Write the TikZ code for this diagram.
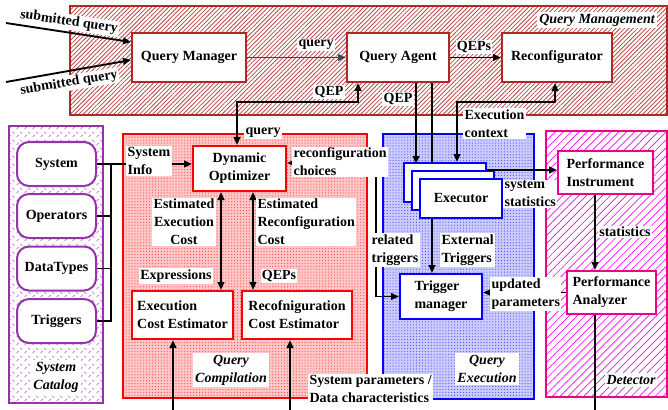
\documentclass[tikz,border=0pt]{standalone}
\usepackage{fontspec}
\setmainfont{Liberation Serif}
\usetikzlibrary{arrows.meta,patterns,patterns.meta,calc}
\definecolor{qmred}{RGB}{175,40,40}
\definecolor{catpurple}{RGB}{150,50,170}
\definecolor{qarrow}{RGB}{47,79,79}
\newcommand\mf{\fontsize{10.5}{13.5}\selectfont\bfseries}
\pgfdeclarepattern{name=zigzag, type=uncolored, bottom left={\pgfpoint{0pt}{0pt}}, top right={\pgfpoint{6pt}{6pt}}, tile size={\pgfpoint{6pt}{6pt}},
  code={\pgfsetlinewidth{0.5pt}
   \pgfpathmoveto{\pgfqpoint{0.5pt}{0.8pt}}\pgfpathlineto{\pgfqpoint{2.3pt}{2.6pt}}
   \pgfpathmoveto{\pgfqpoint{3.4pt}{5.2pt}}\pgfpathlineto{\pgfqpoint{5.4pt}{3.4pt}}
   \pgfusepath{stroke}}}
\tikzset{
  every node/.style={font=\mf},
  lbl/.style={fill=white, inner sep=1pt},
  lbll/.style={fill=white, inner sep=1pt, align=left},
  ital/.style={fill=white, inner sep=1.5pt, align=center, font=\mf\itshape},
  qmbox/.style={draw=qmred, fill=white, line width=1.5pt, minimum height=36.75pt},
  redbox/.style={draw=red, fill=white, line width=1.5pt, align=left},
  bluebox/.style={draw=blue, fill=white, line width=1.5pt, align=left},
  magbox/.style={draw=magenta, fill=white, line width=1.5pt, align=left},
  catbox/.style={draw=catpurple, fill=white, line width=1.5pt, rounded corners=9pt, minimum width=59.25pt, minimum height=33pt},
  ln/.style={line width=1.4pt},
  arr/.style={line width=1.4pt, -{Triangle[length=6pt,width=5pt]}},
  darr/.style={line width=1.4pt, {Triangle[length=6pt,width=5pt]}-{Triangle[length=6pt,width=5pt]}},
}
\begin{document}
\begin{tikzpicture}[x=0.75pt,y=-0.75pt]
\useasboundingbox (0,0) rectangle (668,410);
% regions
\fill[pattern={Lines[angle=45,distance=2.3pt,line width=0.6pt]}, pattern color=qmred!85] (70,6) rectangle (667,115);
\draw[qmred, line width=1.5pt] (70,6) rectangle (667,115);
\fill[pattern=zigzag, pattern color=catpurple!65] (9,126) rectangle (103,403);
\draw[catpurple, line width=1.5pt] (9,126) rectangle (103,403);
\fill[red!22] (123,134) rectangle (367,398);
\fill[pattern={Dots[distance=2.2pt,radius=0.45pt]}, pattern color=red!70] (123,134) rectangle (367,398);
\draw[red, line width=1.5pt] (123,134) rectangle (367,398);
\fill[blue!20] (383,134) rectangle (534,399);
\fill[pattern={Dots[distance=2.2pt,radius=0.45pt]}, pattern color=blue!70] (383,134) rectangle (534,399);
\draw[blue, line width=1.5pt] (383,134) rectangle (534,399);
\fill[pattern={Lines[angle=45,distance=4.2pt,line width=0.5pt]}, pattern color=magenta] (546,131) rectangle (667,397);
\draw[magenta, line width=1.5pt] (546,131) rectangle (667,397);

% boxes
\node[qmbox, minimum width=85.5pt] (qm) at (189,57.5) {Query Manager};
\node[qmbox, minimum width=76.5pt] (qa) at (398,57.5) {Query Agent};
\node[qmbox, minimum width=82.5pt] (rc) at (557,57.5) {Reconfigurator};
\node[catbox] (sys) at (56.5,164) {System};
\node[catbox] (ops) at (56.5,216) {Operators};
\node[catbox] (dt) at (56.5,268.5) {DataTypes};
\node[catbox] (trig) at (56.5,321) {Triggers};
\node[redbox, align=center, minimum width=69.75pt, minimum height=33.75pt] (do) at (239.5,168.5) {Dynamic\\Optimizer};
\node[redbox, minimum width=75.75pt, minimum height=36pt] (ece) at (182.5,315) {Execution\\Cost Estimator};
\node[redbox, minimum width=82.5pt, minimum height=36pt] (rce) at (297,315) {Recofniguration\\Cost Estimator};
\node[bluebox, minimum width=61.5pt, minimum height=29.25pt] (e1) at (445,182.5) {};
\node[bluebox, minimum width=61.5pt, minimum height=29.25pt] (e2) at (453,190.5) {};
\node[bluebox, minimum width=61.5pt, minimum height=29.25pt] (e3) at (461,198.5) {Executor};
\node[bluebox, minimum width=61.5pt, minimum height=33.75pt] (tm) at (441,296.5) {Trigger\\manager};
\node[magbox, minimum width=71.25pt, minimum height=32.25pt] (pi) at (605.5,172.5) {Performance\\Instrument};
\node[magbox, minimum width=66.75pt, minimum height=32.25pt] (pa) at (611.5,292.5) {Performance\\Analyzer};

% connectors
\coordinate (sq1) at (6,23);
\coordinate (sq2) at (6,82);
\draw[arr] (sq1) -- ($(qm.west)+(0,-15.5)$);
\draw[arr] (sq2) -- ($(qm.west)+(0,2.5)$);
\draw[arr, draw=qarrow] (qm) -- (qa);
\draw[arr] (qa) -- (rc);
\draw[darr] ($(do.north)+(-2.5,0)$) -- ++(0,-43) -| ($(qa.south)+(-40,0)$);
\draw[arr] ($(qa.south)+(18,0)$) -- ++(0,81);
\draw[ln] ($(qa.south)+(34,0)$) -- ++(0,81);
\draw[darr] ($(e1.north)+(12,0)$) -- ++(0,-60) -| ($(rc.south)+(-2,0)$);
\draw[arr] (sys.east) -- (sys.east -| do.west);
\draw[ln] ($(sys.east)+(14,0)$) |- (trig.east);
\draw[ln] (ops.east) -- ++(14,0);
\draw[ln] (dt.east) -- ++(14,0);
\coordinate (d1) at ($(do.south)+(-18.5,0)$);
\coordinate (d2) at ($(do.south)+(13.5,0)$);
\draw[darr] (d1) -- (d1 |- ece.north);
\draw[darr] (d2) -- (d2 |- rce.north);
\coordinate (b1) at (173,410);
\coordinate (b2) at (290,410);
\draw[arr] (b1) -- (b1 |- ece.south);
\draw[arr] (b2) -- (b2 |- rce.south);
\draw[darr] ($(do.east)+(0,-5.5)$) -- (376,163) |- (tm.west);
\draw[arr] (e1.east |- e2.north) -- (pi.west |- e2.north);
\coordinate (x1) at ($(e3.south)+(-29,0)$);
\draw[arr] (x1) -- (x1 |- tm.north);
\coordinate (p1) at ($(pi.south)+(-10.5,0)$);
\draw[arr] (p1) -- (p1 |- pa.north);
\draw[arr] (pa.west) -- (pa.west -| tm.east);
\coordinate (p2) at ($(pa.south)+(-16.5,0)$);
\draw[ln] (p2) -- ++(0,96);

% labels
\node[lbl, rotate=-8.5] (l1) at (69,22) {submitted query};
\node[lbl, rotate=9.5] (l2) at (69,83) {submitted query};
\node[lbl] (l3) at (316,45) {query};
\node[lbl] (l4) at (474,47) {QEPs};
\node[ital] (l5) at (597,20) {Query Management};
\node[lbl] (l6) at (329,92) {QEP};
\node[lbl] (l7) at (398,99) {QEP};
\node[lbll, anchor=north west] (l8) at (463,108) {Execution\\context};
\node[lbl] (l9) at (263,133) {query};
\node[lbll, anchor=west] (l10) at (126,161) {System\\Info};
\node[lbll, anchor=west] (l11) at (292,162) {reconfiguration\\choices};
\node[lbl, align=center] (l12) at (184,222) {Estimated\\Execution\\Cost};
\node[lbll, anchor=west] (l13) at (256,222) {Estimated\\Reconfiguration\\Cost};
\node[lbl] (l14) at (176,276) {Expressions};
\node[lbl] (l15) at (279,276) {QEPs};
\node[ital] (l16) at (231,370) {Query\\Compilation};
\node[lbll, anchor=west] (l17) at (308,389) {System parameters /\\Data characteristics};
\node[lbll, anchor=west] (l18) at (370,250) {related\\triggers};
\node[lbll, anchor=west] (l19) at (440,250) {External\\Triggers};
\node[lbll, anchor=west] (l20) at (503,194) {system\\statistics};
\node[lbl] (l21) at (625,232) {statistics};
\node[lbll, anchor=west] (l22) at (490,294) {updated\\parameters};
\node[ital] (l23) at (487,369) {Query\\Execution};
\node[ital] (l24) at (631,380) {Detector};
\node[ital] (l25) at (56,377) {System\\Catalog};
\end{tikzpicture}
\end{document}
